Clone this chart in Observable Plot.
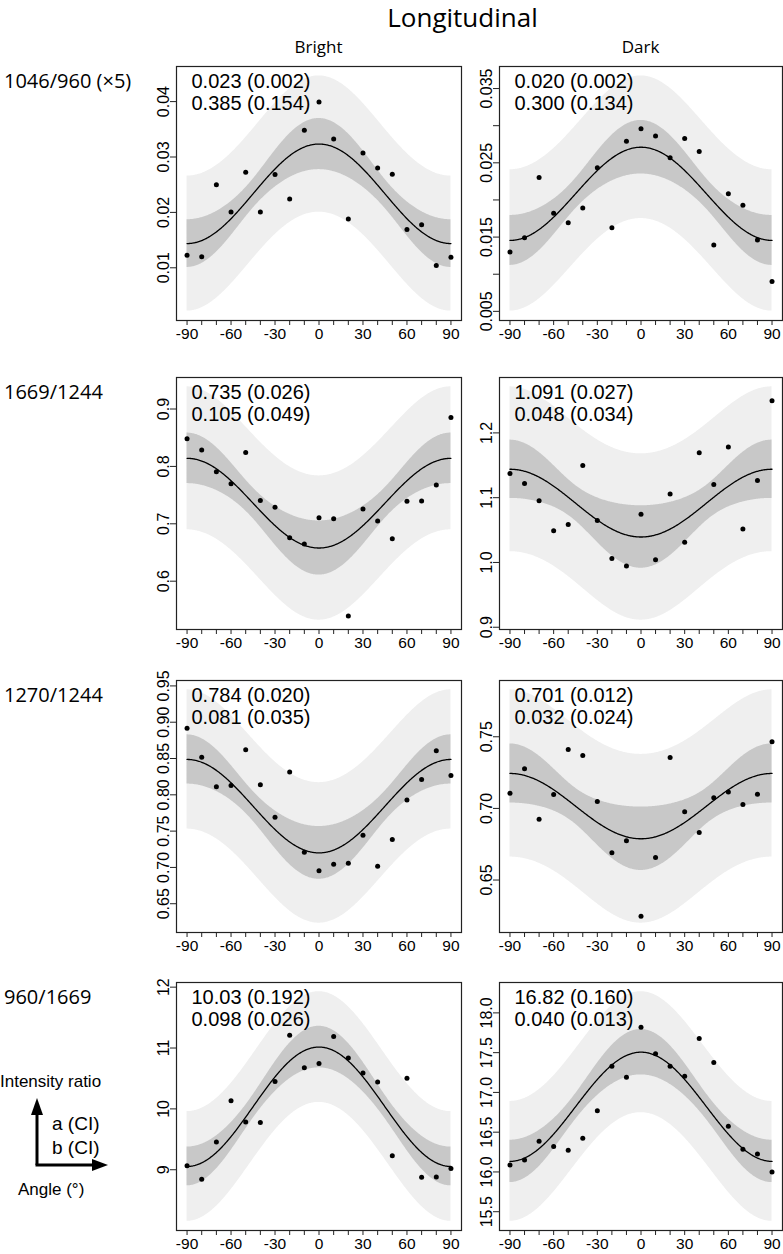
<!DOCTYPE html>
<html><head><meta charset="utf-8">
<script src="https://cdn.jsdelivr.net/npm/d3@7"></script>
<script src="https://cdn.jsdelivr.net/npm/@observablehq/plot@0.6"></script>
<style>
body{margin:0;background:#fff;}
#root{position:relative;width:783px;height:1254px;overflow:hidden;background:#fff;font-family:"Liberation Sans",Arial,sans-serif;color:#000;}
.lbl{position:absolute;white-space:nowrap;line-height:1.2;}
.panel{position:absolute;}
</style></head><body><div id="root"></div>
<script>
// ---------- data ----------
const title = "Longitudinal";
const colLabels = ["Bright", "Dark"];
const rowLabels = ["1046/960 (×5)", "1669/1244", "1270/1244", "960/1669"];
const angles = [-90,-80,-70,-60,-50,-40,-30,-20,-10,0,10,20,30,40,50,60,70,80,90];
const xTicks = [-90,-80,-70,-60,-50,-40,-30,-20,-10,0,10,20,30,40,50,60,70,80,90];
const xLabels = ["-90","-60","-30","0","30","60","90"];

const brightRow1 = [0.01228,0.01198,0.02497,0.02006,0.02725,0.02006,0.02683,0.0224,0.03485,0.03994,0.03323,0.0188,0.03072,0.02802,0.02689,0.01689,0.01778,0.01042,0.01192];
const darkRow1   = [0.01299,0.01491,0.02304,0.01821,0.01692,0.01893,0.02433,0.01625,0.0279,0.0296,0.02862,0.02567,0.02826,0.02652,0.01393,0.02085,0.01929,0.0146,0.00902];
const brightRow2 = [0.8484,0.8284,0.7906,0.770,0.8244,0.7408,0.7288,0.6756,0.6647,0.7105,0.7088,0.5393,0.7259,0.7048,0.6738,0.7391,0.7397,0.7677,0.8851];
const darkRow2   = [1.1372,1.1219,1.0954,1.049,1.0587,1.1495,1.0648,1.0061,0.9944,1.0745,1.0041,1.1056,1.0311,1.1694,1.1204,1.1781,1.0515,1.1265,1.2495];
const brightRow3 = [0.8918,0.8519,0.8112,0.813,0.862,0.8139,0.769,0.8313,0.721,0.6953,0.7045,0.7059,0.7443,0.7017,0.7384,0.7929,0.8212,0.8606,0.8267];
const darkRow3   = [0.7106,0.7276,0.6924,0.7097,0.7412,0.7369,0.7048,0.6691,0.6774,0.6247,0.6657,0.7355,0.6977,0.6832,0.7074,0.7115,0.7028,0.7099,0.7465];
const brightRow4 = [9.065,8.843,9.454,10.135,9.784,9.778,10.449,11.211,10.676,10.746,11.189,10.838,10.589,10.443,9.232,10.503,8.876,8.881,9.022];
const darkRow4   = [16.088,16.15,16.386,16.321,16.272,16.423,16.77,17.33,17.191,17.82,17.485,17.33,17.203,17.677,17.375,16.574,16.284,16.227,15.998];

// fitted curve read at 0° and at ±90°
const fitAt0Bright  = [0.03234, 0.6578, 0.7200, 11.016];
const fitAt90Bright = [0.01437, 0.8141, 0.8487, 9.054];
const fitAt0Dark    = [0.0271, 1.0393, 0.6788, 17.506];
const fitAt90Dark   = [0.01455, 1.1439, 0.7244, 16.133];
const bandBright = [0.0114, 0.1165, 0.0897, 0.843];
const bandDark   = [0.0089, 0.119, 0.0546, 0.705];

const notesBright = ["0.023 (0.002)\n0.385 (0.154)", "0.735 (0.026)\n0.105 (0.049)", "0.784 (0.020)\n0.081 (0.035)", "10.03 (0.192)\n0.098 (0.026)"];
const notesDark   = ["0.020 (0.002)\n0.300 (0.134)", "1.091 (0.027)\n0.048 (0.034)", "0.701 (0.012)\n0.032 (0.024)", "16.82 (0.160)\n0.040 (0.013)"];

const yTicksBright = [["0.01","0.02","0.03","0.04"], ["0.6","0.7","0.8","0.9"], ["0.65","0.70","0.75","0.80","0.85","0.90","0.95"], ["9","10","11","12"]];
const yTicksDark   = [["0.005","0.010","0.015","0.020","0.025","0.030","0.035"], ["0.9","1.0","1.1","1.2"], ["0.65","0.70","0.75"], ["15.5","16.0","16.5","17.0","17.5","18.0"]];
const yUnlabeledDark = [["0.010","0.020","0.030"], [], [], []];

const legendY = "Intensity ratio";
const legendX = "Angle (°)";
const legendA = "a (CI)";
const legendB = "b (CI)";

// ---------- layout ----------
const frameLeft = [176, 499];
const frameWidth = [285, 283];
const frameTop = [66, 377, 680, 982];
const frameHeight = [254, 252, 252, 248];
const ML = 40, MR = 2, MT = 2, MB = 26;

const root = document.getElementById("root");
function label(text, x, y, css) {
  const d = document.createElement("div");
  d.className = "lbl"; d.textContent = text;
  d.style.left = x + "px"; d.style.top = y + "px";
  Object.assign(d.style, css || {});
  root.appendChild(d); return d;
}

function panel(vals, at0, at90, k, yTicks, unlabeled, note, fw, fh) {
  const n = angles.length;
  const rad = Math.PI / 180;
  const cs = angles.map(a => Math.cos(2 * a * rad));
  const cbar = d3.mean(cs);
  const sxx = d3.sum(cs, c => (c - cbar) ** 2);
  const mid = (at0 + at90) / 2, amp = (at0 - at90) / 2;
  const model = d3.range(-90, 90.001, 0.5).map(t => {
    const c = Math.cos(2 * t * rad);
    const q = 1 / n + (c - cbar) ** 2 / sxx;
    const f = mid + amp * c;
    const se = k * Math.sqrt(q), sp = k * Math.sqrt(1 + q);
    return {t, f, ci1: f - se, ci2: f + se, pi1: f - sp, pi2: f + sp};
  });
  const pts = angles.map((a, i) => ({a, v: vals[i]}));
  const lo = Math.min(d3.min(model, d => d.pi1), d3.min(vals));
  const hi = Math.max(d3.max(model, d => d.pi2), d3.max(vals));
  const pad = (hi - lo) * 0.04;
  const tickNums = yTicks.map(Number);
  const fmtY = d => {
    const i = tickNums.findIndex(v => Math.abs(v - d) < 1e-9);
    if (i < 0) return "";
    return unlabeled.includes(yTicks[i]) ? "" : yTicks[i];
  };
  const fmtX = d => xLabels.includes(String(d)) ? String(d) : "";
  return Plot.plot({
    width: ML + fw + MR, height: MT + fh + MB,
    marginLeft: ML, marginRight: MR, marginTop: MT, marginBottom: MB,
    x: {domain: [-97.2, 97.2]},
    y: {domain: [lo - pad, hi + pad]},
    style: {fontFamily: "'Liberation Sans', Arial, sans-serif", background: "transparent", color: "#000", overflow: "visible"},
    marks: [
      Plot.areaY(model, {x: "t", y1: "pi1", y2: "pi2", fill: "#efefef"}),
      Plot.areaY(model, {x: "t", y1: "ci1", y2: "ci2", fill: "#c8c8c8"}),
      Plot.line(model, {x: "t", y: "f", stroke: "#000", strokeWidth: 1.3}),
      Plot.dot(pts, {x: "a", y: "v", r: 2.5, fill: "#000", stroke: "none"}),
      Plot.text([note], {text: d => d, frameAnchor: "top-left", dx: 15, dy: 6, lineAnchor: "top", textAnchor: "start", fontSize: 20, lineHeight: 1.1, fill: "#000"}),
      Plot.frame({stroke: "#222", strokeWidth: 1.2}),
      Plot.axisX({ticks: xTicks, tickFormat: fmtX, tickSize: 5, tickPadding: 2, fontSize: 15.5, label: null, stroke: "#222"}),
      Plot.axisY({ticks: tickNums, tickFormat: fmtY, tickRotate: -90, tickSize: 6, tickPadding: 2, fontSize: 16, label: null, stroke: "#222"})
    ]
  });
}

const rowsB = [brightRow1, brightRow2, brightRow3, brightRow4];
const rowsD = [darkRow1, darkRow2, darkRow3, darkRow4];

for (let r = 0; r < 4; r++) {
  for (let c = 0; c < 2; c++) {
    const svg = c === 0
      ? panel(rowsB[r], fitAt0Bright[r], fitAt90Bright[r], bandBright[r], yTicksBright[r], [], notesBright[r], frameWidth[0], frameHeight[r])
      : panel(rowsD[r], fitAt0Dark[r], fitAt90Dark[r], bandDark[r], yTicksDark[r], yUnlabeledDark[r], notesDark[r], frameWidth[1], frameHeight[r]);
    svg.classList.add("panel");
    svg.style.left = (frameLeft[c] - ML) + "px";
    svg.style.top = (frameTop[r] - MT) + "px";
    root.appendChild(svg);
  }
  label(rowLabels[r], 4, frameTop[r] + 3, {fontFamily: "'Open Sans', sans-serif", fontSize: "20px"});
}

// titles
const t = label(title, 0, 2, {fontFamily: "'Open Sans', sans-serif", fontSize: "26px"});
t.style.width = "783px"; t.style.paddingLeft = "142px"; t.style.boxSizing = "border-box"; t.style.textAlign = "center";
for (let c = 0; c < 2; c++) {
  label(colLabels[c], frameLeft[c], 37, {fontFamily: "'Open Sans', sans-serif", fontSize: "17px", width: frameWidth[c] + "px", textAlign: "center"});
}

// legend (schematic axes)
const ns = "http://www.w3.org/2000/svg";
const lg = document.createElementNS(ns, "svg");
lg.setAttribute("width", 140); lg.setAttribute("height", 140);
lg.style.position = "absolute"; lg.style.left = "0px"; lg.style.top = "1080px";
lg.innerHTML = `
<line x1="37" y1="34" x2="37" y2="85" stroke="#000" stroke-width="3"/>
<polygon points="37,18 31,35 43,35" fill="#000"/>
<line x1="35.5" y1="85" x2="95" y2="85" stroke="#000" stroke-width="3"/>
<polygon points="108,85 92,79 92,91" fill="#000"/>`;
root.appendChild(lg);
label(legendY, 0, 1072, {fontSize: "17px"});
label(legendA, 52, 1113, {fontSize: "19px"});
label(legendB, 52, 1137, {fontSize: "19px"});
label(legendX, 18, 1180, {fontSize: "17px"});
</script></body></html>
